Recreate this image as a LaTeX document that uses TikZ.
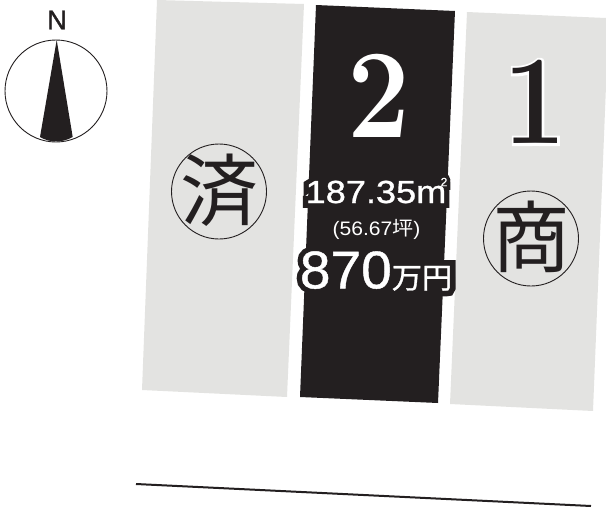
\documentclass[tikz,border=0pt]{standalone}
\usepackage{graphicx}
\usepackage{fontspec}
\setmainfont{Liberation Sans}
\newfontfamily\cjk[FakeBold=1]{Noto Sans CJK JP}
\newfontfamily\cjkplain{Noto Sans CJK JP}
\newfontfamily\cjkhalo[FakeBold=40]{Noto Sans CJK JP}
\newfontfamily\sansmid[FakeBold=0.8]{Liberation Sans}
\newfontfamily\areahalofont[FakeBold=30]{Liberation Sans}
\newfontfamily\pricehalofont[FakeBold=20]{Liberation Sans}
\newfontfamily\sqhalofont[FakeBold=60]{Liberation Sans}
\newfontfamily\northfont[FakeBold=1.5]{Liberation Sans}
\newfontfamily\numbold{Latin Modern Roman}
\newfontfamily\numhalo[BoldFeatures={FakeBold=4}]{Latin Modern Roman}
\definecolor{lotgray}{HTML}{E3E3E1}
\definecolor{inkblack}{HTML}{231F20}
\tikzset{
  x=1pt,y=-1pt,
  lot/.style={fill=lotgray,draw=none},
  seal/.style={circle,draw=inkblack,line width=0.9pt,minimum size=95pt,inner sep=0pt,font=\cjkplain\fontsize{78}{78}\selectfont,text=inkblack},
  label/.style={inner sep=0pt,text=white},
  halo/.style={inner sep=0pt,text=inkblack},
}
\newcommand{\sealglyph}[1]{\makebox[0pt][c]{\raisebox{-0.36em}[0pt][0pt]{#1}}}
\begin{document}
\begin{tikzpicture}
\useasboundingbox (0,0) rectangle (606,507);
\fill[lot] (157,0) -- (304,4) -- (287,397) -- (142,390) -- cycle;
\fill[inkblack] (316,5) -- (455,11) -- (438,403) -- (300,397) -- cycle;
\fill[lot] (467,12) -- (606,18) -- (606,86) -- (593,411) -- (450,404) -- cycle;
% compass
\draw[inkblack,line width=0.9pt] (56,91) circle (51);
\fill[inkblack] (56.7,40) -- (72.7,137) .. controls (62,143) and (50,143) .. (40,137) -- cycle;
\node[inner sep=0pt,font=\northfont\fontsize{27}{27}\selectfont,text=inkblack] (north) at (57,20) {N};
% numbers
\node[label] (two) at (379,96) {\scalebox{0.88}[1]{\numbold\bfseries\fontsize{127}{127}\selectfont 2}};
\node[inner sep=0pt,text=white] (onehalo) at (535,102) {\scalebox{0.88}[1]{\numhalo\bfseries\fontsize{127}{127}\selectfont 1}};
\node[inner sep=0pt,text=inkblack] (one) at (535,102) {\scalebox{0.88}[1]{\numbold\bfseries\fontsize{127}{127}\selectfont 1}};
\node[seal] (zumi) at (219,191.5) {\sealglyph{済}};
\node[seal] (sho) at (531,238.5) {\sealglyph{商}};
% text
\node[halo] (areahalo) at (376,192) {\scalebox{1.13}[1]{\areahalofont\fontsize{32}{32}\selectfont 187.35m}};
\node[halo] (sqhalo) at (444,182) {\sqhalofont\fontsize{12}{12}\selectfont 2};
\node[label] (area) at (376,192) {\scalebox{1.13}[1]{\sansmid\fontsize{32}{32}\selectfont 187.35m}};
\node[label] (sq) at (444,182) {\sansmid\fontsize{12}{12}\selectfont 2};
\node[label] (tsubo) at (376.5,229) {\scalebox{1.08}[1]{\fontsize{19.5}{20}\selectfont (56.67{\cjkplain 坪})}};
\node[halo] (pricehalo) at (376,271) {\scalebox{1.04}[1]{\pricehalofont\fontsize{53}{53}\selectfont 870{\cjkhalo\fontsize{29}{29}\selectfont 万円}}};
\node[label] (price) at (376,271) {\scalebox{1.04}[1]{\sansmid\fontsize{53}{53}\selectfont 870{\cjk\fontsize{29}{29}\selectfont 万円}}};
\coordinate (roadL) at (136,484);
\coordinate (roadR) at (591,506);
\draw[inkblack,line width=2pt] (roadL) -- (roadR);
\end{tikzpicture}
\end{document}
